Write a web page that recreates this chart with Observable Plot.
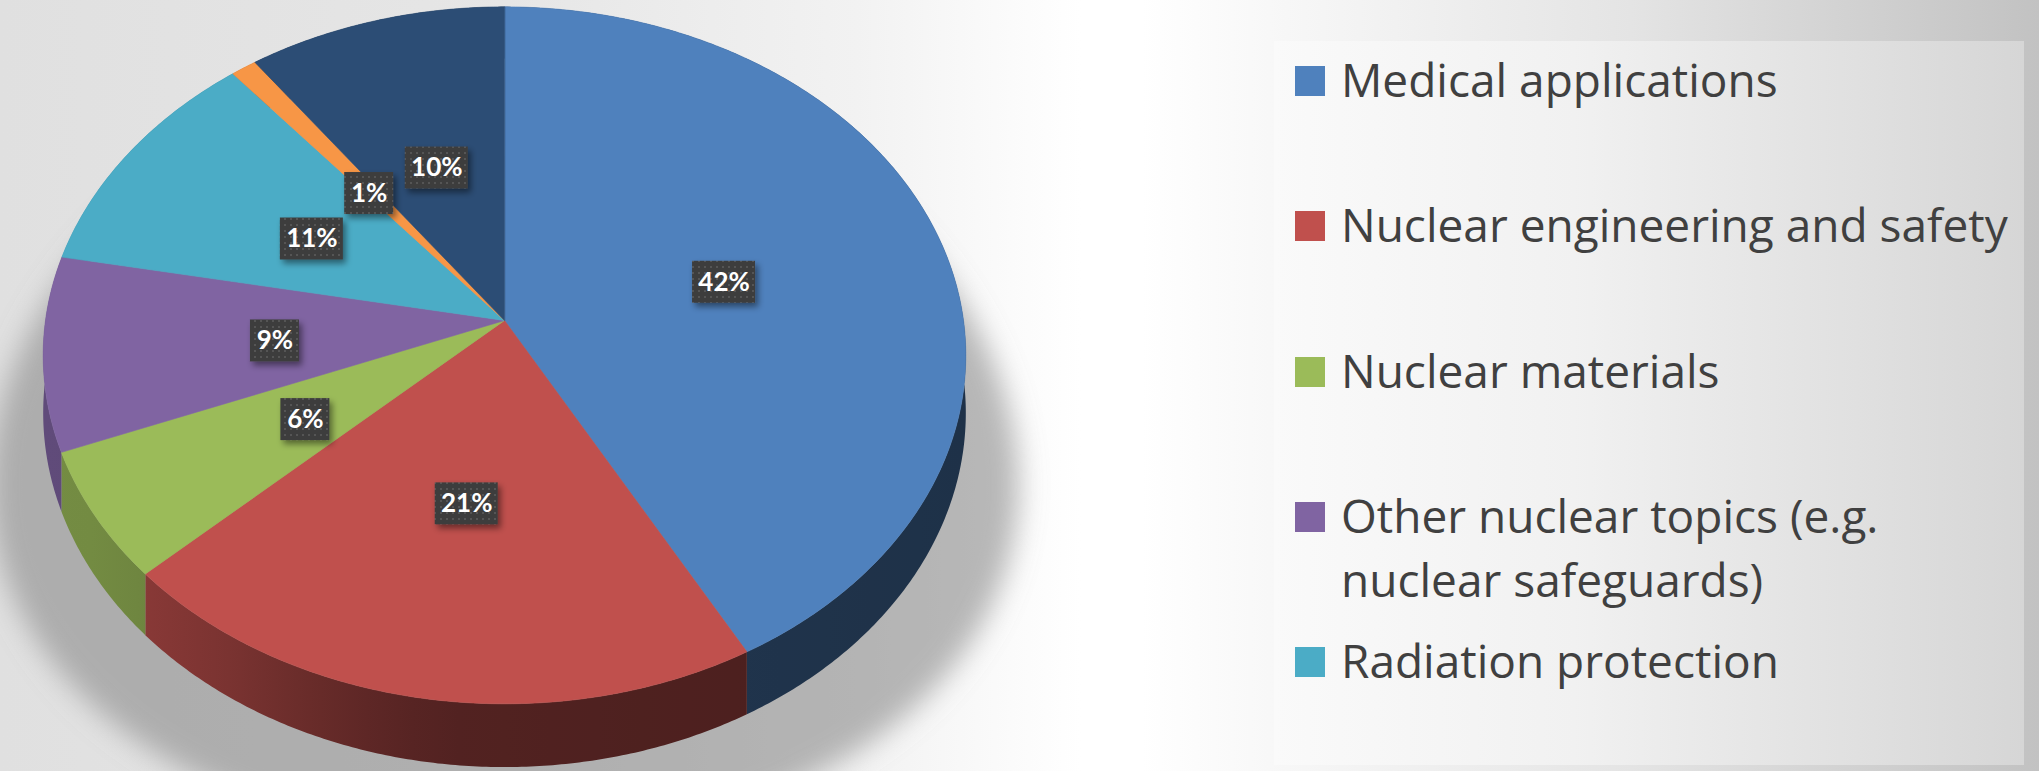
<!DOCTYPE html>
<html>
<head>
<meta charset="utf-8">
<script src="https://cdn.jsdelivr.net/npm/d3@7"></script>
<script src="https://cdn.jsdelivr.net/npm/@observablehq/plot@0.6"></script>
<style>
html, body { margin: 0; padding: 0; }
body {
  width: 2039px; height: 771px; overflow: hidden; position: relative;
  background: linear-gradient(to right, #e0e0e0 0%, #e6e6e6 25%, #f2f2f2 42%, #ffffff 53%, #ffffff 56%, #e4e4e4 80%, #c2c2c2 100%);
}
#chart { position: absolute; left: 0; top: 0; }
#legend {
  position: absolute; left: 1274px; top: 41px; width: 750px; height: 724px;
  background: linear-gradient(to right, #fafafa 0%, #f1f1f1 40%, #d6d6d6 100%);
  font-family: "Open Sans", Lato, sans-serif; color: #404040;
}
.item { position: absolute; left: 21px; display: flex; align-items: flex-start; }
.sw { width: 30px; height: 30px; flex: none; }
.tx { font-size: 46px; line-height: 64px; margin-top: -19px; margin-left: 16px; white-space: nowrap; }
</style>
</head>
<body>
<div id="chart"></div>
<div id="legend"></div>
<script>
// ---- data ----
const categories = [
  "Medical applications",
  "Nuclear engineering and safety",
  "Nuclear materials",
  "Other nuclear topics (e.g. nuclear safeguards)",
  "Radiation protection",
  "Other category 6",
  "Other category 7"
];
const shares = [42, 21, 6, 9, 11, 1, 10];
const shareLabels = ["42%", "21%", "6%", "9%", "11%", "1%", "10%"];
const colors = ["#4F81BD", "#C0504D", "#9BBB59", "#8064A2", "#4BACC6", "#F79646", "#2C4D75"];
const legendCount = 5; // legend in the reference shows the first five entries

// ---- 3D pie geometry (perspective-tilted disc) ----
const K = 0.10;      // perspective strength
const DEPTH = 0.165; // wall height (in disc units)
function proj(theta, r = 1, drop = 0) {
  const u = r * Math.sin(theta), v = -r * Math.cos(theta);
  const w = 1 - K * v;
  return [u / w, (v + drop) / w];
}
function shade(c, f) {
  const k = d3.rgb(c);
  return d3.rgb(k.r * f, k.g * f, k.b * f).formatHex();
}
function wallFactor(u) {
  if (u >= 0) return 0.42 - 0.04 * u;
  const t = Math.min(1, -u);
  const s = t * t * (3 - 2 * t);
  return 0.42 + 0.33 * s;
}

const arcs = d3.pie().sort(null).value(d => d)(shares);
const STEP = Math.PI / 360;

const tops = [];
const walls = [];
arcs.forEach((a, i) => {
  const n = Math.max(2, Math.ceil((a.endAngle - a.startAngle) / STEP));
  tops.push({key: "t" + i, x: 0, y: 0, c: colors[i]});
  const top = [], bottom = [];
  for (let j = 0; j <= n; j++) {
    const t = a.startAngle + (a.endAngle - a.startAngle) * j / n;
    const [x, y] = proj(t);
    tops.push({key: "t" + i, x, y, c: colors[i]});
    top.push(proj(t));
    bottom.push(proj(t, 1, DEPTH));
  }
  top.concat(bottom.reverse()).forEach(([x, y]) => walls.push({key: "w" + i, x, y, c: colors[i]}));
});

// soft shadow below the pie
const shadow = [];
for (let j = 0; j < 360; j++) {
  const t = j * Math.PI / 180;
  const u = Math.sin(t), v = -Math.cos(t), w = 1 - K * v;
  const sx = 1 + 0.1 * (1 + v);
  shadow.push({key: "s", x: u * sx / w, y: (v + DEPTH + 0.1 * (1 + v)) / w});
}

// data labels
const labelData = arcs.map((a, i) => {
  const mid = (a.startAngle + a.endAngle) / 2;
  const [x, y] = proj(mid, 0.5);
  const wpx = 14 * shareLabels[i].length + 21;
  return {
    x, y: y + 0.012, text: shareLabels[i],
    x1: x - wpx / 2 / 459, x2: x + wpx / 2 / 459,
    y1: y + 0.012 - 21 / 345, y2: y + 0.012 + 21 / 345
  };
});

const svg = Plot.plot({
  width: 1270,
  height: 771,
  margin: 0,
  style: {background: "transparent", overflow: "visible"},
  x: {domain: [-1, 1], range: [45, 963], axis: null},
  y: {domain: [-1, 1], range: [-25, 665], axis: null},
  color: {type: "identity"},
  marks: [
    Plot.line(shadow, {x: "x", y: "y", z: "key", fill: "#8a8a8a", fillOpacity: 0.6, stroke: "none", curve: "linear-closed"}),
    Plot.line(walls, {x: "x", y: "y", z: "key", fill: "c", stroke: "none", curve: "linear-closed"}),
    Plot.line(tops, {x: "x", y: "y", z: "key", fill: "c", stroke: "c", strokeWidth: 0.6, curve: "linear-closed"}),
    Plot.rect(labelData, {x1: "x1", x2: "x2", y1: "y1", y2: "y2", fill: "#3d3d3d"}),
    Plot.text(labelData, {x: "x", y: "y", text: "text", fill: "white", fontSize: 26, fontWeight: "bold", fontFamily: "Lato, 'Open Sans', sans-serif"})
  ]
});

const sel = d3.select(svg);
// horizontal shading gradients for the side walls
const xpx = X => 504 + 459 * X;
let grads = "";
colors.forEach((c, i) => {
  let stops = "";
  for (let s = 0; s <= 20; s++) {
    const u = -1 + s / 10;
    stops += `<stop offset="${s / 20}" stop-color="${shade(c, wallFactor(u))}"></stop>`;
  }
  grads += `<linearGradient id="wg${i}" gradientUnits="userSpaceOnUse" x1="${xpx(-1)}" x2="${xpx(1)}" y1="0" y2="0">${stops}</linearGradient>`;
});
sel.insert("defs", ":first-child").html(`
  <pattern id="dots" width="6" height="6" patternUnits="userSpaceOnUse">
    <rect width="6" height="6" fill="#3d3d3d"></rect>
    <rect x="2" y="2" width="2" height="2" fill="#555555"></rect>
  </pattern>
  <filter id="boxShadow" x="-30%" y="-30%" width="170%" height="180%">
    <feDropShadow dx="3" dy="4" stdDeviation="3" flood-color="#000" flood-opacity="0.45"></feDropShadow>
  </filter>
  <filter id="blurShadow" x="-20%" y="-20%" width="140%" height="140%">
    <feGaussianBlur stdDeviation="14"></feGaussianBlur>
  </filter>` + grads);
const lineGroups = sel.selectAll('g[aria-label="line"]').nodes();
d3.select(lineGroups[0]).attr("filter", "url(#blurShadow)");
d3.select(lineGroups[1]).selectAll("path").attr("fill", (d, j) => `url(#wg${j})`);
sel.selectAll('g[aria-label="rect"]').attr("filter", "url(#boxShadow)").selectAll("rect").attr("fill", "url(#dots)");
document.getElementById("chart").appendChild(svg);

// legend (HTML, beside the chart); names wrap at 30 characters
function wrap(name, max = 30) {
  const lines = [];
  let cur = "";
  name.split(" ").forEach(w => {
    const next = cur ? cur + " " + w : w;
    if (next.length > max && cur) { lines.push(cur); cur = w; } else cur = next;
  });
  if (cur) lines.push(cur);
  return lines;
}
const legend = d3.select("#legend");
categories.slice(0, legendCount).forEach((name, i) => {
  const item = legend.append("div").attr("class", "item").style("top", (25 + i * 145.3) + "px");
  item.append("div").attr("class", "sw").style("background", colors[i]);
  const tx = item.append("div").attr("class", "tx");
  wrap(name).forEach(line => tx.append("div").text(line));
});
</script>
</body>
</html>
